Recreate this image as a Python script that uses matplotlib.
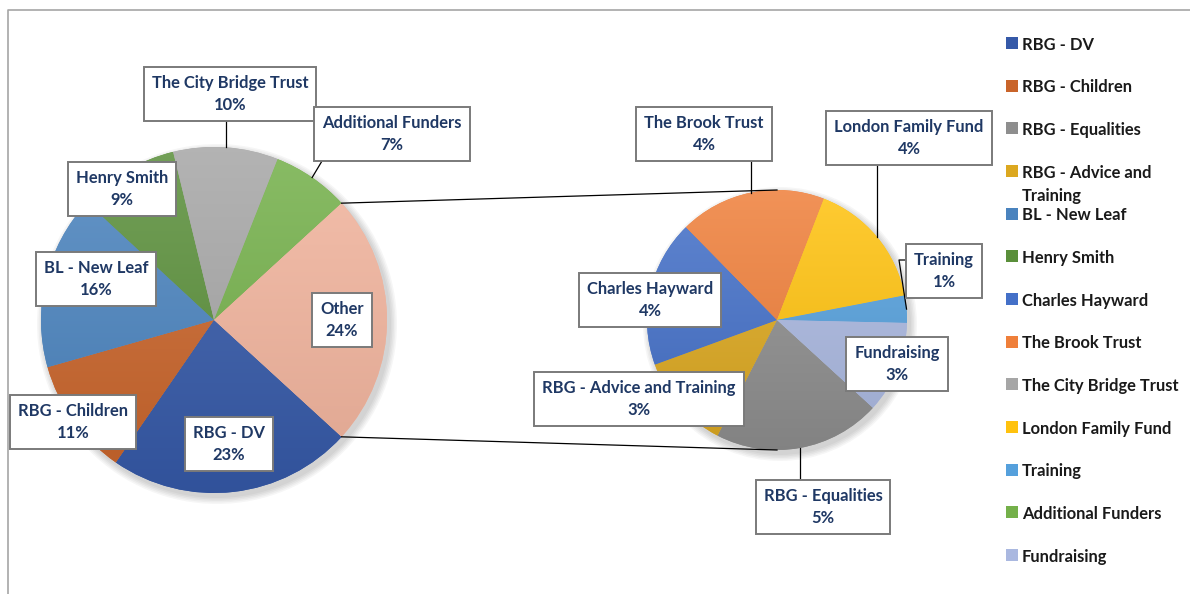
import numpy as np
import matplotlib.pyplot as plt
from matplotlib import colors as mcolors

# funding shares (percent of total)
main_names = ['RBG - DV', 'RBG - Children', 'BL - New Leaf', 'Henry Smith',
              'The City Bridge Trust', 'Additional Funders', 'Other']
main_vals = [22.8, 11.0, 16.3, 9.3, 9.8, 7.2, 23.6]

sub_names = ['RBG - Equalities', 'RBG - Advice and Training', 'Charles Hayward',
             'The Brook Trust', 'London Family Fund', 'Training', 'Fundraising']
sub_vals = [4.9, 2.8, 4.3, 4.3, 3.8, 0.8, 2.7]

legend_names = ['RBG - DV', 'RBG - Children', 'RBG - Equalities', 'RBG - Advice and\nTraining',
                'BL - New Leaf', 'Henry Smith', 'Charles Hayward', 'The Brook Trust',
                'The City Bridge Trust', 'London Family Fund', 'Training',
                'Additional Funders', 'Fundraising']

palette = {
    'RBG - DV': '#3559a8', 'RBG - Children': '#c9642a', 'RBG - Equalities': '#8e8e8e',
    'RBG - Advice and Training': '#dca820', 'BL - New Leaf': '#4a83be',
    'Henry Smith': '#5a8f3a', 'Charles Hayward': '#4470c8', 'The Brook Trust': '#ef7f3a',
    'The City Bridge Trust': '#a6a6a6', 'London Family Fund': '#ffc20e',
    'Training': '#55a0dc', 'Additional Funders': '#74b04a', 'Fundraising': '#aab8e0',
    'Other': '#f2b49d',
}

# label box centres in pixel coords (y down)
label_pos = {
    'RBG - DV': (229, 444), 'RBG - Children': (73, 422), 'BL - New Leaf': (96, 279),
    'Henry Smith': (122, 189), 'The City Bridge Trust': (230, 94),
    'Additional Funders': (392, 134), 'Other': (342, 320),
    'RBG - Equalities': (823, 507), 'RBG - Advice and Training': (639, 399),
    'Charles Hayward': (650, 300), 'The Brook Trust': (704, 134),
    'London Family Fund': (909, 138), 'Training': (944, 271), 'Fundraising': (897, 364),
}
# where leader lines leave the boxes
leader_start = {
    'The City Bridge Trust': [(None, 121)], 'Additional Funders': [(322, 161)],
    'The Brook Trust': [(None, 161)], 'London Family Fund': [(None, 165)],
    'RBG - Equalities': [(None, 480)], 'Training': [(911, 260), (899, 260)],
}

W, H = 1190, 594
def Y(y):
    return H - y

fig = plt.figure(figsize=(11.9, 5.94), dpi=100)
ax = fig.add_axes([0, 0, 1, 1])

main_c, main_r = (214, Y(320)), 173
sub_c, sub_r = (777, Y(320)), 130
text_col = '#1f3864'
font = 'Lato'
fsize = 11.9


def shade(c, f):
    rgb = np.array(mcolors.to_rgb(c))
    if f > 0:
        return rgb + (1 - rgb) * f
    return rgb * (1 + f)


def draw_pie(vals, names, center, r, start):
    # soft shadow
    for i in range(5):
        ax.add_patch(plt.Circle((center[0] + 3, center[1] - 4), r + 1 + i * 1.5,
                                color='#000000', alpha=0.035, lw=0, zorder=0.5))
    wedges, _ = ax.pie(vals, colors=[palette[n] for n in names], startangle=start,
                       counterclock=False, radius=r, center=center,
                       wedgeprops=dict(linewidth=0))
    for w, n in zip(wedges, names):
        top, bot = shade(palette[n], 0.15), shade(palette[n], -0.08)
        t = np.linspace(0, 1, 256)[:, None, None]
        grad = top * (1 - t) + bot * t
        im = ax.imshow(grad, extent=[center[0] - r, center[0] + r, center[1] - r, center[1] + r],
                       origin='upper', interpolation='bilinear', aspect='auto', zorder=1.5)
        im.set_clip_path(w)
    return wedges


start = -main_vals[-1] / sum(main_vals) * 180
wm = draw_pie(main_vals, main_names, main_c, main_r, start)
ws = draw_pie(sub_vals, sub_names, sub_c, sub_r, start)

# connector lines from "Other" slice to the secondary pie
other = wm[-1]
for ang, sy in [(other.theta1, sub_c[1] - sub_r), (other.theta2, sub_c[1] + sub_r)]:
    a = np.deg2rad(ang)
    ax.plot([main_c[0] + main_r * np.cos(a), sub_c[0]],
            [main_c[1] + main_r * np.sin(a), sy], color='black', lw=0.9, zorder=3)

total = sum(main_vals)
pct = dict(zip(main_names, main_vals))
pct.update(zip(sub_names, sub_vals))
wedge_of = dict(zip(main_names, wm))
wedge_of.update(zip(sub_names, ws))

for name, (px, py) in label_pos.items():
    w = wedge_of[name]
    if name in leader_start:
        mid = np.deg2rad((w.theta1 + w.theta2) / 2)
        ex = w.center[0] + w.r * np.cos(mid)
        ey = w.center[1] + w.r * np.sin(mid)
        pts = [((ex if x is None else x), Y(y)) for x, y in leader_start[name]] + [(ex, ey)]
        xs, ys = zip(*pts)
        ax.plot(xs, ys, color='black', lw=0.9, zorder=3)
    ax.text(px, Y(py), f'{name}\n{round(pct[name] / total * 100)}%', ha='center', va='center',
            multialignment='center', fontsize=fsize, fontweight='bold', family=font,
            color=text_col, linespacing=1.4, zorder=5,
            bbox=dict(boxstyle='square,pad=0.48', fc='white', ec='#7a7a7a', lw=1.4))

# legend
for i, name in enumerate(legend_names):
    y = 43 + i * 42.67
    key = name.replace('\n', ' ')
    ax.add_patch(plt.Rectangle((1006, Y(y) - 6), 12, 12, color=palette[key], lw=0, zorder=4))
    ax.text(1022, Y(y - 6.5), name, ha='left', va='top', fontsize=fsize, fontweight='bold',
            family=font, color='#1a1a1a', linespacing=1.55, zorder=4)

# chart frame
ax.plot([8, 8, W], [0, Y(10), Y(10)], color='#a6a6a6', lw=1.2, zorder=0)

ax.set_xlim(0, W)
ax.set_ylim(0, H)
ax.set_aspect('auto')
ax.axis('off')
fig.savefig('out.png', dpi=100)
